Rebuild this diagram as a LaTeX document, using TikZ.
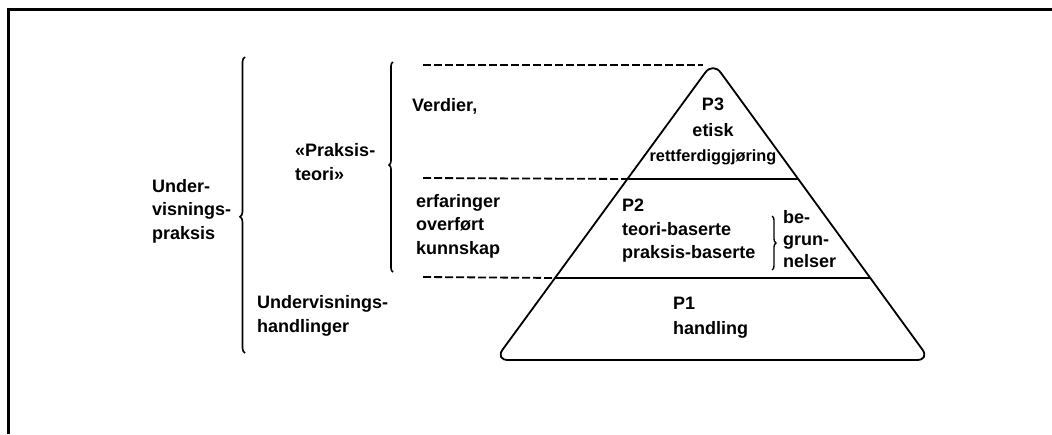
\documentclass[tikz,border=0pt]{standalone}
\usepackage{fontspec}
\setmainfont{Liberation Sans}
\usetikzlibrary{decorations.pathreplacing,calc}
\begin{document}
\begin{tikzpicture}[x=1pt,y=-1pt,
  lbl/.style={font=\bfseries\fontsize{18}{24}\selectfont, inner sep=0pt, align=left, anchor=north west},
  clbl/.style={font=\bfseries\fontsize{18}{25.5}\selectfont, inner sep=0pt, align=center, anchor=north},
  pyr/.style={line width=1.8pt, line join=round},
  dashline/.style={line width=1.8pt, dash pattern=on 8pt off 3pt},
  bracebar/.style={line width=1.6pt, decorate},
  frameline/.style={line width=3pt}]
\useasboundingbox (0,0) rectangle (1052,434);
% frame
\draw[frameline] (8,434) -- (8,9.5) -- (1052,9.5);
% pyramid
\coordinate (apex) at (713,62);
\coordinate (bl) at (495,360);
\coordinate (br) at (930,360);
\coordinate (bm) at (712,360);
\coordinate (l3) at ($(apex)!0.3926!(bl)$);
\coordinate (r3) at ($(apex)!0.3926!(br)$);
\coordinate (l2) at ($(apex)!0.7248!(bl)$);
\coordinate (r2) at ($(apex)!0.7248!(br)$);
\draw[pyr, rounded corners=13pt] (bm) -- (bl) -- (apex) -- (br) -- cycle;
\draw[pyr] (l3) -- (r3);
\draw[pyr] (l2) -- (r2);
% dashed guide lines
\coordinate (d1) at (423,65);
\coordinate (d1e) at (703,65);
\coordinate (d2) at (423,178);
\coordinate (d3) at (423,277);
\draw[dashline] (d1) -- (d1e);
\draw[dashline] (d2) -- (l3);
\draw[dashline] (d3) -- (l2);
% braces
\coordinate (b1s) at (245,353);
\coordinate (b1e) at (245,57);
\draw[bracebar, decoration={brace, amplitude=5pt, aspect=0.46}] (b1s) -- (b1e);
\coordinate (b2s) at (393,272);
\coordinate (b2e) at (393,62);
\draw[bracebar, decoration={brace, amplitude=4pt, aspect=0.51}] (b2s) -- (b2e);
\coordinate (b3s) at (772,216);
\coordinate (b3e) at (772,270);
\draw[bracebar, line width=1.4pt, decoration={brace, amplitude=4pt}] (b3s) -- (b3e);
% labels
\node[lbl, font=\bfseries\fontsize{18}{23.5}\selectfont] (up) at (152,178.9) {Under-\\visnings-\\praksis};
\node[lbl] (pt) at (295,142.9) {«Praksis-\\teori»};
\node[lbl] (uh) at (257,294.9) {Undervisnings-\\handlinger};
\node[lbl] (ve) at (412,97.9) {Verdier,};
\node[lbl, font=\bfseries\fontsize{18}{23.5}\selectfont] (ef) at (416,193.9) {erfaringer\\overført\\kunnskap};
\node[clbl] (p3) at (713,97.9) {P3\\etisk\\{\fontsize{16.3}{25.5}\selectfont rettferdiggjøring}};
\node[lbl, font=\bfseries\fontsize{18}{23.5}\selectfont] (p2) at (622,198.9) {P2\\teori-baserte\\praksis-baserte};
\node[lbl, font=\bfseries\fontsize{18}{22}\selectfont] (bg) at (783,209.9) {be-\\grun-\\nelser};
\node[lbl, font=\bfseries\fontsize{18}{25}\selectfont] (p1) at (673,296.9) {P1\\handling};
\end{tikzpicture}
\end{document}
